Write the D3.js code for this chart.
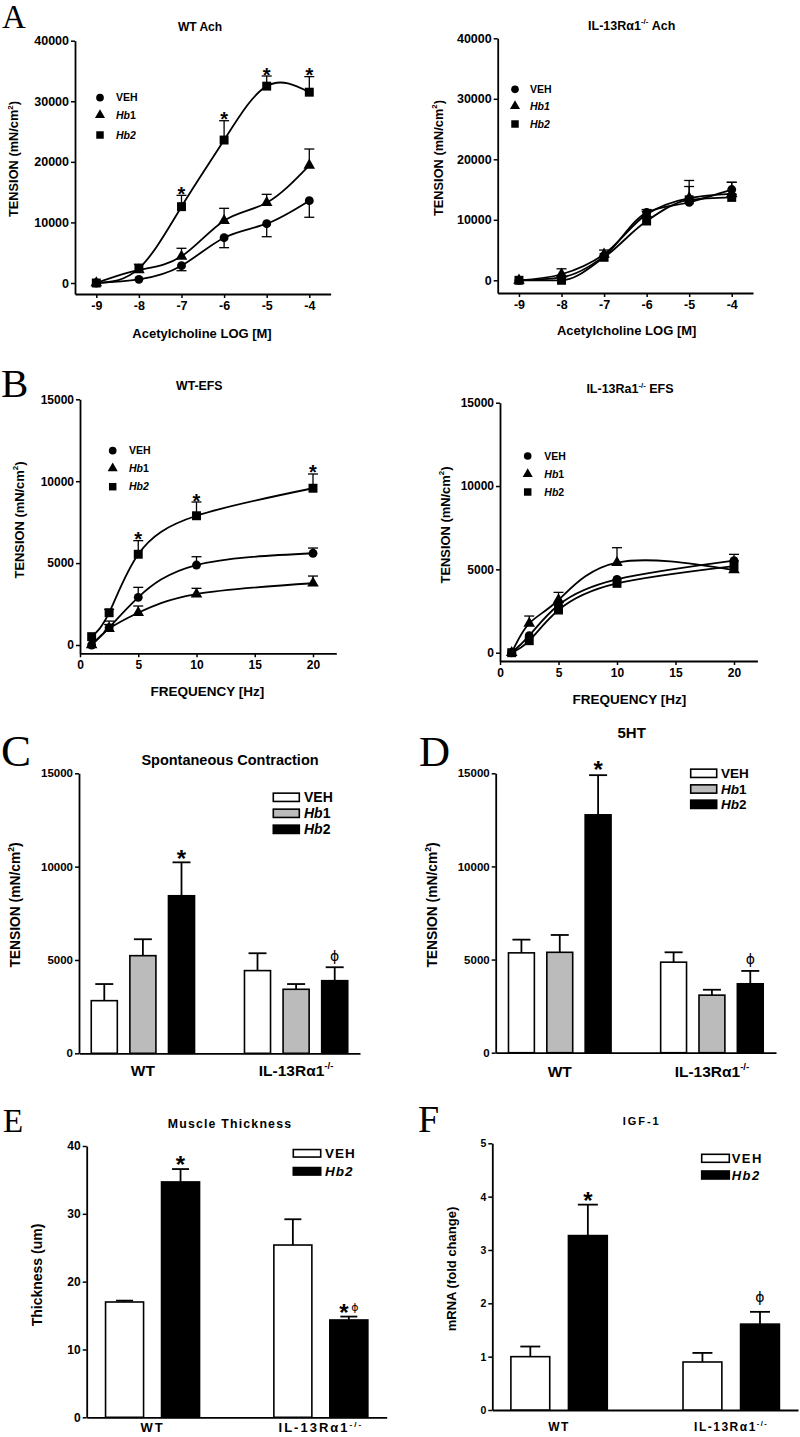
<!DOCTYPE html>
<html><head><meta charset="utf-8">
<script src="https://cdn.jsdelivr.net/npm/d3@7"></script>
<style>
body{margin:0;background:#fff;}
svg{display:block;}
</style></head><body>
<svg id="chart" width="800" height="1437"></svg>
<script>
// ---------------- DATA ----------------
const treatments = ["VEH", "Hb1", "Hb2"];
const genotypes = ["WT", "IL-13Rα1"];

// Panel A: acetylcholine dose (log M)
const achDoses = [-9, -8, -7, -6, -5, -4];
const wtAchVEH = [0, 600, 2860, 7480, 9790, 13590];
const wtAchVEHErr = [0, 0, -830, -1650, -2150, -2740];
const wtAchHb1 = [0, 2150, 4400, 10290, 13260, 19430];
const wtAchHb1Err = [0, 0, 1330, 2040, 1380, 2690];
const wtAchHb2 = [0, 2400, 12600, 23600, 32500, 31500];
const wtAchHb2Err = [0, 700, 1870, 3190, 1670, 2570];

const koAchVEH = [0, 500, 4000, 11200, 12900, 15000];
const koAchVEHErr = [0, 0, 0, 500, 0, 1200];
const koAchHb1 = [0, 1000, 4300, 10900, 13600, 14300];
const koAchHb1Err = [0, 900, 700, 500, 2900, 1900];
const koAchHb2 = [0, 0, 3800, 9800, 13300, 13700];
const koAchHb2Err = [0, 0, 0, 0, 2200, 500];

// Panel B: EFS frequency (Hz)
const efsFreq = [1, 2.5, 5, 10, 20];
const wtEfsVEH = [0, 1060, 2910, 4880, 5600];
const wtEfsVEHErr = [0, 400, 610, 510, 320];
const wtEfsHb1 = [0, 1000, 1970, 3110, 3770];
const wtEfsHb1Err = [0, 250, 410, 350, 440];
const wtEfsHb2 = [510, 1970, 5540, 7890, 9570];
const wtEfsHb2Err = [0, 200, 830, 840, 870];

const koEfsVEH = [0, 1020, 2860, 4400, 5520];
const koEfsVEHErr = [0, 0, 0, 0, 380];
const koEfsHb1 = [0, 1760, 3160, 5400, 4960];
const koEfsHb1Err = [0, 440, 460, 900, 0];
const koEfsHb2 = [0, 720, 2560, 4160, 5200];
const koEfsHb2Err = [0, 0, 0, 0, 300];

// Panel C: spontaneous contraction [WT, KO]
const spontVEH = [2820, 4430];
const spontVEHErr = [890, 930];
const spontHb1 = [5230, 3430];
const spontHb1Err = [880, 280];
const spontHb2 = [8440, 3890];
const spontHb2Err = [1790, 720];

// Panel D: 5HT [WT, KO]
const htVEH = [5360, 4860];
const htVEHErr = [710, 530];
const htHb1 = [5390, 3090];
const htHb1Err = [930, 290];
const htHb2 = [12770, 3700];
const htHb2Err = [2130, 690];

// Panel E: muscle thickness [WT, KO]
const thickVEH = [17.0, 25.4];
const thickVEHErr = [0.2, 3.8];
const thickHb2 = [34.7, 14.35];
const thickHb2Err = [1.9, 0.5];

// Panel F: IGF-1 mRNA [WT, KO]
const igfVEH = [1.0, 0.9];
const igfVEHErr = [0.19, 0.17];
const igfHb2 = [3.27, 1.61];
const igfHb2Err = [0.58, 0.23];

const achTicks = [-9, -8, -7, -6, -5, -4];
const tensionTicks40 = [0, 10000, 20000, 30000, 40000];
const tensionTicks15 = [0, 5000, 10000, 15000];
const freqTicks = [0, 5, 10, 15, 20];
const thickTicks = [0, 10, 20, 30, 40];
const foldTicks = [0, 1, 2, 3, 4, 5];

// ---------------- HELPERS ----------------
const FONT = '"Liberation Sans", Arial, sans-serif';
const SERIF = '"Liberation Serif", "Times New Roman", serif';
const svg = d3.select("#chart");

function addRich(g, parts, x, y, o) {
  const t = g.append("text").attr("x", x).attr("y", y)
    .attr("text-anchor", o.anchor || "middle")
    .attr("font-size", o.size)
    .attr("font-weight", o.weight || "bold")
    .attr("font-family", o.family || FONT)
    .attr("fill", "#000");
  if (o.spacing) t.attr("letter-spacing", o.spacing);
  if (o.rotate) t.attr("transform", `rotate(-90 ${x} ${y})`);
  let shifted = 0;
  parts.forEach(p => {
    const s = t.append("tspan").text(p.t);
    if (p.it) s.attr("font-style", "italic");
    if (p.sup) { s.attr("font-size", o.size * 0.62).attr("dy", -o.size * 0.42); shifted = o.size * 0.42; }
    else if (shifted) { s.attr("dy", shifted); shifted = 0; }
  });
  return t;
}

const koParts = [{t: "IL-13Rα1"}, {t: "-/-", sup: true}];
const tensionParts = [{t: "TENSION (mN/cm"}, {t: "2", sup: true}, {t: ")"}];
function treatParts(name, allItalic) {
  if (name === "VEH") return [{t: "VEH"}];
  if (allItalic) return [{t: name, it: true}];
  return [{t: "Hb", it: true}, {t: name.slice(2)}];
}
const symbolOf = {VEH: d3.symbolCircle, Hb1: d3.symbolTriangle, Hb2: d3.symbolSquare};
const symSize = {VEH: 62, Hb1: 58, Hb2: 80};
const legSize = {VEH: 46, Hb1: 44, Hb2: 56};

function styleAxis(a, fs) {
  a.select(".domain").attr("stroke", "#000").attr("stroke-width", 1.8);
  a.selectAll(".tick line").attr("stroke", "#000").attr("stroke-width", 1.5);
  a.selectAll(".tick text").attr("font-size", fs).attr("font-weight", "bold")
    .attr("font-family", FONT).attr("fill", "#000");
}

function panelLetter(letter, x, y, size) {
  svg.append("text").attr("x", x).attr("y", y).attr("font-family", SERIF)
    .attr("font-size", size).attr("fill", "#000").text(letter);
}

function linePanel(c) {
  const g = svg.append("g");
  const x = d3.scaleLinear().domain(c.xDomain).range(c.xRange);
  const y = d3.scaleLinear().domain([0, c.yMax]).range([c.zeroY, c.topY]);
  const yAxisScale = d3.scaleLinear().domain([y.invert(c.axisY), c.yMax]).range([c.axisY, c.topY]);
  const ya = g.append("g").attr("transform", `translate(${c.xRange[0]},0)`)
    .call(d3.axisLeft(yAxisScale).tickValues(c.yTicks).tickSize(4).tickPadding(2)
      .tickSizeOuter(0).tickFormat(d => String(d)));
  const xa = g.append("g").attr("transform", `translate(0,${c.axisY})`)
    .call(d3.axisBottom(x).tickValues(c.xTicks).tickSize(4).tickPadding(3)
      .tickSizeOuter(0).tickFormat(d => String(d)));
  styleAxis(ya, c.tickFont); styleAxis(xa, c.tickFont);

  const line = d3.line().x(d => x(d.x)).y(d => y(d.v)).curve(c.curve);
  const all = c.series.map(s => ({key: s.key, pts: c.xs.map((xv, i) => ({x: xv, v: s.values[i], e: s.err[i]}))}));
  all.forEach(s => {
    g.append("path").datum(s.pts).attr("d", line).attr("fill", "none")
      .attr("stroke", "#000").attr("stroke-width", 1.8);
  });
  all.forEach(s => {
    s.pts.filter(p => p.e !== 0).forEach(p => {
      const cx = x(p.x), y1 = y(p.v), y2 = y(p.v + p.e);
      g.append("line").attr("x1", cx).attr("x2", cx).attr("y1", y1).attr("y2", y2)
        .attr("stroke", "#000").attr("stroke-width", 1.3);
      g.append("line").attr("x1", cx - 5).attr("x2", cx + 5).attr("y1", y2).attr("y2", y2)
        .attr("stroke", "#000").attr("stroke-width", 1.3);
    });
  });
  all.forEach(s => {
    g.selectAll(null).data(s.pts).join("path")
      .attr("transform", p => `translate(${x(p.x)},${y(p.v)})`)
      .attr("d", d3.symbol().type(symbolOf[s.key]).size(symSize[s.key]))
      .attr("fill", "#000");
  });
  // significance stars
  const hb2 = all.find(s => s.key === "Hb2");
  (c.stars || []).forEach(i => {
    const p = hb2.pts[i];
    g.append("text").attr("x", x(p.x)).attr("y", y(p.v + p.e) - 6 + 0.575 * 20)
      .attr("text-anchor", "middle").attr("font-size", 20).attr("font-weight", "bold")
      .attr("font-family", FONT).attr("fill", "#000").text("*");
  });
  // legend
  c.series.forEach((s, i) => {
    const ly = c.legend.ys[i];
    g.append("path").attr("transform", `translate(${c.legend.x},${ly})`)
      .attr("d", d3.symbol().type(symbolOf[s.key]).size(legSize[s.key])).attr("fill", "#000");
    addRich(g, treatParts(s.key, c.legend.italic && c.legend.italic.includes(s.key)),
      c.legend.textX, ly + c.legend.size * 0.36, {size: c.legend.size, anchor: "start"});
  });
  addRich(g, c.title.parts, c.title.x, c.title.y, {size: c.title.size});
  addRich(g, c.xlabel.parts, c.xlabel.x, c.xlabel.y, {size: c.xlabel.size});
  addRich(g, tensionParts, c.ylabel.x, c.ylabel.y, {size: c.ylabel.size, rotate: true});
}

function barPanel(c) {
  const g = svg.append("g");
  const x0 = d3.scaleBand().domain(genotypes).range(c.xRange).paddingInner(c.pi).paddingOuter(c.po);
  const x1 = d3.scaleBand().domain(c.series.map(s => s.key)).range([0, x0.bandwidth()]).paddingInner(c.innerPad);
  const y = d3.scaleLinear().domain([0, c.yMax]).range([c.zeroY, c.topY]);
  const ya = g.append("g").attr("transform", `translate(${c.xRange[0]},0)`)
    .call(d3.axisLeft(y).tickValues(c.yTicks).tickSize(4).tickPadding(2)
      .tickSizeOuter(0).tickFormat(d => String(d)));
  const xa = g.append("g").attr("transform", `translate(0,${c.zeroY})`)
    .call(d3.axisBottom(x0).tickSize(0).tickSizeOuter(0).tickFormat(() => ""));
  styleAxis(ya, c.tickFont); styleAxis(xa, c.tickFont);

  c.series.forEach(s => {
    genotypes.forEach((gn, gi) => {
      const v = s.values[gi], e = s.err[gi];
      const bx = x0(gn) + x1(s.key), bw = x1.bandwidth(), cx = bx + bw / 2;
      const ytop = y(v), ycap = y(v + e);
      g.append("line").attr("x1", cx).attr("x2", cx).attr("y1", ytop).attr("y2", ycap)
        .attr("stroke", "#000").attr("stroke-width", 1.8);
      g.append("line").attr("x1", cx - c.capW / 2).attr("x2", cx + c.capW / 2).attr("y1", ycap).attr("y2", ycap)
        .attr("stroke", "#000").attr("stroke-width", 1.8);
      g.append("rect").attr("x", bx).attr("y", ytop).attr("width", bw).attr("height", c.zeroY - ytop)
        .attr("fill", s.fill).attr("stroke", "#000").attr("stroke-width", 1.6);
    });
  });
  // annotations
  (c.notes || []).forEach(n => {
    const s = c.series.find(q => q.key === n.key);
    const gi = n.gi;
    const cx = x0(genotypes[gi]) + x1(n.key) + x1.bandwidth() / 2 + (n.dx || 0);
    const ycap = y(s.values[gi] + s.err[gi]);
    if (n.kind === "star") {
      g.append("text").attr("x", cx).attr("y", ycap - n.gap + 0.575 * n.size)
        .attr("text-anchor", "middle").attr("font-size", n.size).attr("font-weight", "bold")
        .attr("font-family", FONT).attr("fill", "#000").text("*");
    } else {
      g.append("text").attr("x", cx).attr("y", ycap - n.gap + 0.27 * n.size)
        .attr("text-anchor", "middle").attr("font-size", n.size).attr("font-weight", "normal")
        .attr("font-family", '"DejaVu Sans", sans-serif').attr("fill", "#000").text("ϕ");
    }
  });
  // category labels
  genotypes.forEach((gn, gi) => {
    const parts = gi === 0 ? [{t: "WT"}] : koParts;
    addRich(g, parts, x0(gn) + x0.bandwidth() / 2, c.catY, {size: c.catSize, spacing: c.catSpacing});
  });
  // legend
  c.series.forEach((s, i) => {
    const ly = c.legend.ys[i];
    g.append("rect").attr("x", c.legend.x).attr("y", ly - c.legend.h / 2)
      .attr("width", c.legend.w).attr("height", c.legend.h)
      .attr("fill", s.fill).attr("stroke", "#000").attr("stroke-width", 1.6);
    addRich(g, treatParts(s.key, c.legend.allItalic), c.legend.textX, ly + c.legend.size * 0.36,
      {size: c.legend.size, anchor: "start", spacing: c.legend.spacing});
  });
  addRich(g, c.title.parts, c.title.x, c.title.y, {size: c.title.size, spacing: c.title.spacing});
  addRich(g, c.ylabel.parts, c.ylabel.x, c.ylabel.y, {size: c.ylabel.size, rotate: true});
}

// ---------------- PANELS ----------------
panelLetter("A", 2, 28, 33);
linePanel({
  xs: achDoses, xDomain: [-9.5, -3.5], xRange: [75, 330.6],
  yMax: 40000, zeroY: 283, topY: 40.7, axisY: 294,
  yTicks: tensionTicks40, xTicks: achTicks, tickFont: 12.5, curve: d3.curveNatural,
  series: [
    {key: "VEH", values: wtAchVEH, err: wtAchVEHErr},
    {key: "Hb1", values: wtAchHb1, err: wtAchHb1Err},
    {key: "Hb2", values: wtAchHb2, err: wtAchHb2Err}],
  stars: [2, 3, 4, 5],
  legend: {x: 100, ys: [97.7, 115, 135], textX: 116, size: 10.5, italic: ["Hb2"]},
  title: {parts: [{t: "WT Ach"}], x: 200, y: 31, size: 12},
  xlabel: {parts: [{t: "Acetylcholine LOG [M]"}], x: 202, y: 337.5, size: 13},
  ylabel: {x: 18, y: 159, size: 12.8}
});

linePanel({
  xs: achDoses, xDomain: [-9.5, -3.5], xRange: [497.7, 753],
  yMax: 40000, zeroY: 280.3, topY: 38.3, axisY: 293,
  yTicks: tensionTicks40, xTicks: achTicks, tickFont: 12.5, curve: d3.curveMonotoneX,
  series: [
    {key: "VEH", values: koAchVEH, err: koAchVEHErr},
    {key: "Hb1", values: koAchHb1, err: koAchHb1Err},
    {key: "Hb2", values: koAchHb2, err: koAchHb2Err}],
  stars: [],
  legend: {x: 515, ys: [89.3, 106, 124], textX: 530, size: 10.5, italic: ["Hb1", "Hb2"]},
  title: {parts: koParts.concat([{t: " Ach"}]), x: 631.7, y: 29.5, size: 12.5},
  xlabel: {parts: [{t: "Acetylcholine LOG [M]"}], x: 626.7, y: 334.5, size: 13},
  ylabel: {x: 442.5, y: 158, size: 12.8}
});

panelLetter("B", 1, 397, 41);
linePanel({
  xs: efsFreq, xDomain: [0, 22], xRange: [80, 336.3],
  yMax: 15000, zeroY: 645, topY: 399.3, axisY: 653.3,
  yTicks: tensionTicks15, xTicks: freqTicks, tickFont: 12, curve: d3.curveNatural,
  series: [
    {key: "VEH", values: wtEfsVEH, err: wtEfsVEHErr},
    {key: "Hb1", values: wtEfsHb1, err: wtEfsHb1Err},
    {key: "Hb2", values: wtEfsHb2, err: wtEfsHb2Err}],
  stars: [2, 3, 4],
  legend: {x: 112.7, ys: [450.7, 468.3, 486.7], textX: 129, size: 10.5, italic: ["Hb2"]},
  title: {parts: [{t: "WT-EFS"}], x: 199.3, y: 390, size: 12.3},
  xlabel: {parts: [{t: "FREQUENCY [Hz]"}], x: 207.3, y: 695.5, size: 13.5},
  ylabel: {x: 23.5, y: 520, size: 12.9}
});

linePanel({
  xs: efsFreq, xDomain: [0, 22], xRange: [500, 757.4],
  yMax: 15000, zeroY: 652.7, topY: 402.7, axisY: 661,
  yTicks: tensionTicks15, xTicks: freqTicks, tickFont: 12, curve: d3.curveNatural,
  series: [
    {key: "VEH", values: koEfsVEH, err: koEfsVEHErr},
    {key: "Hb1", values: koEfsHb1, err: koEfsHb1Err},
    {key: "Hb2", values: koEfsHb2, err: koEfsHb2Err}],
  stars: [],
  legend: {x: 527.7, ys: [456, 474, 492], textX: 544.3, size: 10.5, italic: []},
  title: {parts: [{t: "IL-13Ra1"}, {t: "-/-", sup: true}, {t: " EFS"}], x: 630, y: 393, size: 12.5},
  xlabel: {parts: [{t: "FREQUENCY [Hz]"}], x: 629.3, y: 704, size: 13.5},
  ylabel: {x: 449.5, y: 525, size: 12.9}
});

panelLetter("C", 1, 766, 45);
barPanel({
  xRange: [79, 360], pi: 0.326, po: 0.08, innerPad: 0.325,
  yMax: 15000, zeroY: 1053.3, topY: 773.3, yTicks: tensionTicks15, tickFont: 11.5, capW: 18,
  series: [
    {key: "VEH", values: spontVEH, err: spontVEHErr, fill: "#ffffff"},
    {key: "Hb1", values: spontHb1, err: spontHb1Err, fill: "#bbbbbb"},
    {key: "Hb2", values: spontHb2, err: spontHb2Err, fill: "#000000"}],
  notes: [{gi: 0, key: "Hb2", kind: "star", gap: 9, size: 24},
          {gi: 1, key: "Hb2", kind: "phi", gap: 10.5, size: 14}],
  catY: 1076, catSize: 15.5,
  legend: {x: 273.3, w: 26, h: 8.3, ys: [797.3, 813.3, 829.3], textX: 304, size: 14},
  title: {parts: [{t: "Spontaneous Contraction"}], x: 230, y: 764.5, size: 14.5},
  ylabel: {parts: tensionParts, x: 19.5, y: 905, size: 13.8}
});

panelLetter("D", 419, 766, 43);
barPanel({
  xRange: [495.7, 776], pi: 0.326, po: 0.084, innerPad: 0.325,
  yMax: 15000, zeroY: 1052.7, topY: 773.3, yTicks: tensionTicks15, tickFont: 11.5, capW: 18,
  series: [
    {key: "VEH", values: htVEH, err: htVEHErr, fill: "#ffffff"},
    {key: "Hb1", values: htHb1, err: htHb1Err, fill: "#bbbbbb"},
    {key: "Hb2", values: htHb2, err: htHb2Err, fill: "#000000"}],
  notes: [{gi: 0, key: "Hb2", kind: "star", gap: 11, size: 24},
          {gi: 1, key: "Hb2", kind: "phi", gap: 10.5, size: 14}],
  catY: 1077, catSize: 15.5,
  legend: {x: 690.7, w: 26, h: 8.3, ys: [773.3, 789, 804.3], textX: 721, size: 13.5},
  title: {parts: [{t: "5HT"}], x: 631.7, y: 738, size: 15},
  ylabel: {parts: tensionParts, x: 436.5, y: 905, size: 13.8}
});

panelLetter("E", 3, 1132, 33);
barPanel({
  xRange: [86.7, 386.7], pi: 0.4415, po: 0.112, innerPad: 0.321,
  yMax: 40, zeroY: 1417.3, topY: 1146, yTicks: thickTicks, tickFont: 12, capW: 17,
  series: [
    {key: "VEH", values: thickVEH, err: thickVEHErr, fill: "#ffffff"},
    {key: "Hb2", values: thickHb2, err: thickHb2Err, fill: "#000000"}],
  notes: [{gi: 0, key: "Hb2", kind: "star", gap: 10, size: 24},
          {gi: 1, key: "Hb2", kind: "star", gap: 9, size: 24, dx: -5},
          {gi: 1, key: "Hb2", kind: "phi", gap: 9, size: 11, dx: 6}],
  catY: 1432, catSize: 13, catSpacing: 2,
  legend: {x: 293.3, w: 27.4, h: 7.5, ys: [1153.3, 1171.3], textX: 325, size: 13.5, spacing: 1, allItalic: true},
  title: {parts: [{t: "Muscle Thickness"}], x: 230, y: 1127.5, size: 12.3, spacing: 1.2},
  ylabel: {parts: [{t: "Thickness (um)"}], x: 41.5, y: 1275, size: 14}
});

panelLetter("F", 418, 1132, 38);
barPanel({
  xRange: [492.3, 798], pi: 0.44, po: 0.108, innerPad: 0.325,
  yMax: 5, zeroY: 1410, topY: 1143.3, yTicks: foldTicks, tickFont: 10.5, capW: 20,
  series: [
    {key: "VEH", values: igfVEH, err: igfVEHErr, fill: "#ffffff"},
    {key: "Hb2", values: igfHb2, err: igfHb2Err, fill: "#000000"}],
  notes: [{gi: 0, key: "Hb2", kind: "star", gap: 9, size: 24},
          {gi: 1, key: "Hb2", kind: "phi", gap: 13.5, size: 14}],
  catY: 1431, catSize: 12, catSpacing: 1.5,
  legend: {x: 701.7, w: 27.6, h: 8, ys: [1158.3, 1175], textX: 731.7, size: 13, spacing: 1.5, allItalic: true},
  title: {parts: [{t: "IGF-1"}], x: 641.7, y: 1124.7, size: 11, spacing: 2},
  ylabel: {parts: [{t: "mRNA (fold change)"}], x: 456, y: 1269, size: 13}
});
</script>
</body></html>
